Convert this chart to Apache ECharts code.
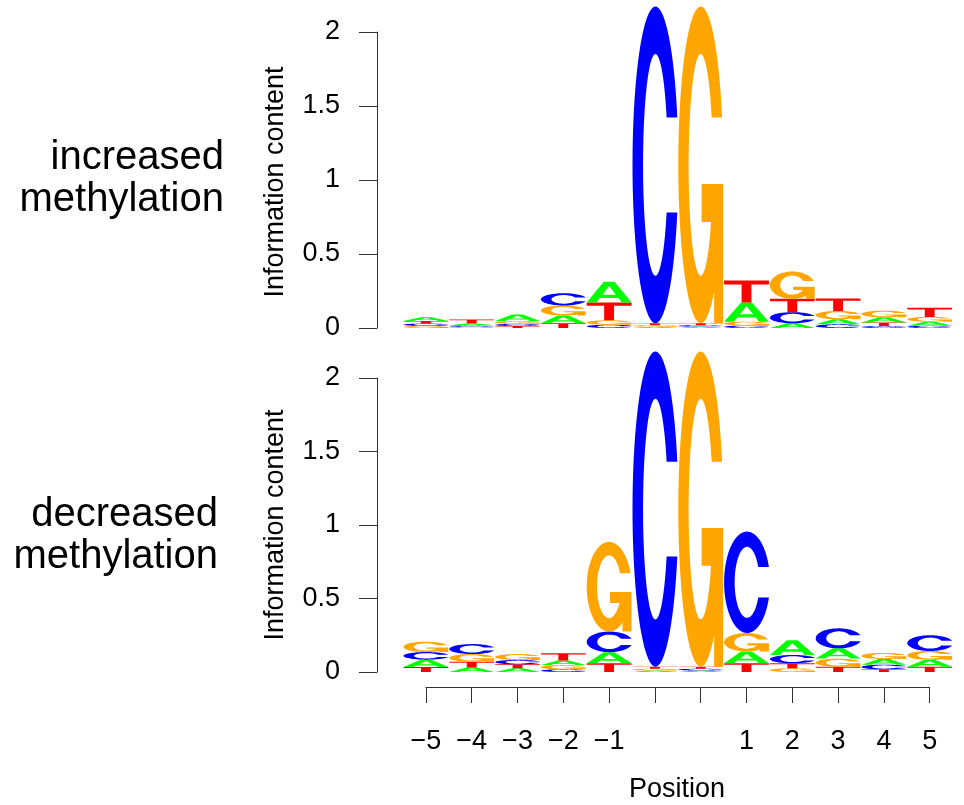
<!DOCTYPE html>
<html><head><meta charset="utf-8">
<script src="https://cdn.jsdelivr.net/npm/echarts@6/dist/echarts.min.js"></script>
<style>html,body{margin:0;padding:0;background:#fff}#c{width:964px;height:805px}</style>
</head><body><div id="c"></div>
<script>
// ---- data ----
const positions = ['-5','-4','-3','-2','-1','C','G','1','2','3','4','5'];
const tickLabels = ['\u22125','\u22124','\u22123','\u22122','\u22121','','','1','2','3','4','5'];
const letters = ['A','C','G','T'];
// increased methylation (bits)
const incA = [0.024,0.013,0.045,0.052,0.140,0.009,0.009,0.130,0.032,0.034,0.034,0.028];
const incC = [0.016,0.010,0.015,0.083,0.022,2.140,0.010,0.016,0.075,0.025,0.013,0.015];
const incG = [0.014,0.008,0.019,0.068,0.030,0.010,2.140,0.027,0.185,0.056,0.045,0.032];
const incT = [0.018,0.026,0.013,0.032,0.120,0.013,0.013,0.148,0.090,0.085,0.025,0.062];
// decreased methylation (bits)
const decA = [0.050,0.030,0.025,0.031,0.075,0.010,0.010,0.080,0.100,0.070,0.038,0.047];
const decC = [0.052,0.068,0.030,0.018,0.140,2.144,0.012,0.690,0.057,0.136,0.032,0.107];
const decG = [0.070,0.052,0.040,0.029,0.610,0.012,2.144,0.125,0.025,0.055,0.042,0.060];
const decT = [0.034,0.040,0.027,0.050,0.060,0.014,0.014,0.060,0.034,0.036,0.018,0.036];

// ---- glyph shapes (100x100 box) ----
function ellPts(cx, cy, rx, ry, a0, a1, n) {
  const pts = [];
  for (let i = 0; i <= n; i++) {
    const a = (a0 + (a1 - a0) * i / n) * Math.PI / 180;
    pts.push([cx + rx * Math.cos(a), cy - ry * Math.sin(a)]);
  }
  return pts;
}
function toPath(pts) {
  return 'M' + pts.map(p => p[0].toFixed(2) + ',' + p[1].toFixed(2)).join('L') + 'Z';
}
const ORX = 50, ORY = 50, IRX = 27, IRY = 35;
const tOut = Math.asin(0.3) * 180 / Math.PI;
const tIn = Math.asin(15 / IRY) * 180 / Math.PI;
const pathC = toPath([].concat(
  ellPts(50, 50, ORX, ORY, tOut, 360 - tOut, 80),
  ellPts(50, 50, IRX, IRY, 360 - tIn, tIn, 80)
));
const gInner = 360 - Math.asin(18 / IRY) * 180 / Math.PI;
const pathG = toPath([].concat(
  ellPts(50, 50, ORX, ORY, tOut, 360 - 53.13, 80),
  [[80, 100], [100, 100], [100, 56], [52, 56], [52, 68]],
  ellPts(50, 50, IRX, IRY, gInner, tIn, 80)
));
const pathA = 'M0,100L38,0L62,0L100,100L78,100L71,78L29,78L22,100Z M35,62L65,62L50,20Z';
const pathT = 'M0,0L100,0L100,18L61,18L61,100L39,100L39,18L0,18Z';
const PATHS = [pathA, pathC, pathG, pathT];
const COLORS = ['#00ff00', '#0000ff', '#ffa500', '#ff0000'];

function buildStacks(A, C, G, T) {
  const out = [];
  const cols = [A, C, G, T];
  for (let i = 0; i < positions.length; i++) {
    const items = cols.map((arr, k) => ({k, h: arr[i]}));
    items.sort((a, b) => a.h - b.h);
    let y = 0;
    items.forEach(it => { out.push([i, y, y + it.h, it.k]); y += it.h; });
  }
  return out;
}

function renderItem(params, api) {
  const x0 = api.value(0), y0 = api.value(1), y1 = api.value(2), li = api.value(3);
  const p0 = api.coord([x0, y0]);
  const p1 = api.coord([x0 + 1, y1]);
  const h = p0[1] - p1[1];
  if (h <= 0.05) return null;
  return {
    type: 'path',
    shape: {pathData: PATHS[li], x: p0[0] + 0.5, y: p1[1], width: p1[0] - p0[0] - 1, height: h, layout: 'cover'},
    style: {fill: COLORS[li]}
  };
}

const FONT = "'Liberation Sans', Arial, sans-serif";
const colW = 45.8;          // px per column
const axisX = 377;          // y axis line
const firstCol = 403;       // left edge of first column
const padCols = (firstCol - axisX) / colW;
function yAx(gi) {
  return {
    gridIndex: gi, type: 'value', min: 0, max: 2, interval: 0.5,
    axisLine: {show: true, onZero: false, lineStyle: {color: '#333', width: 1}},
    axisTick: {show: true, length: 18, lineStyle: {color: '#333', width: 1}},
    axisLabel: {color: '#000', fontSize: 27, fontFamily: FONT, margin: 37},
    splitLine: {show: false}
  };
}
const chart = echarts.init(document.getElementById('c'), null, {renderer: 'canvas'});
chart.setOption({
  animation: false,
  backgroundColor: '#fff',
  grid: [
    {left: axisX, top: 32, width: colW * (12 + padCols), height: 296, containLabel: false, outerBoundsMode: 'none'},
    {left: axisX, top: 378, width: colW * (12 + padCols), height: 294, containLabel: false, outerBoundsMode: 'none'},
    {left: firstCol + colW / 2, top: 600, width: colW * 11, height: 87, containLabel: false, outerBoundsMode: 'none'}
  ],
  xAxis: [
    {gridIndex: 0, type: 'value', min: -padCols, max: 12, show: false},
    {gridIndex: 1, type: 'value', min: -padCols, max: 12, show: false},
    {gridIndex: 2, type: 'category', data: tickLabels, boundaryGap: false,
     axisLine: {show: true, onZero: false, lineStyle: {color: '#333', width: 1}},
     axisTick: {show: true, length: 16, interval: 0, lineStyle: {color: '#333', width: 1}},
     axisLabel: {interval: 0, color: '#000', fontSize: 27, fontFamily: FONT, margin: 41},
     splitLine: {show: false}}
  ],
  yAxis: [yAx(0), yAx(1), {gridIndex: 2, type: 'value', show: false}],
  series: [
    {type: 'custom', xAxisIndex: 0, yAxisIndex: 0, clip: false, renderItem,
     data: buildStacks(incA, incC, incG, incT)},
    {type: 'custom', xAxisIndex: 1, yAxisIndex: 1, clip: false, renderItem,
     data: buildStacks(decA, decC, decG, decT)}
  ],
  graphic: [
    {type: 'text', x: 276, y: 182, rotation: Math.PI / 2,
     style: {text: 'Information content', font: '27px ' + FONT, fill: '#000', align: 'center', verticalAlign: 'middle'}},
    {type: 'text', x: 276, y: 525, rotation: Math.PI / 2,
     style: {text: 'Information content', font: '27px ' + FONT, fill: '#000', align: 'center', verticalAlign: 'middle'}},
    {type: 'text', x: 677, y: 790,
     style: {text: 'Position', font: '27px ' + FONT, fill: '#000', align: 'center', verticalAlign: 'middle'}},
    {type: 'text', x: 224, y: 158,
     style: {text: 'increased', font: '40px ' + FONT, fill: '#000', align: 'right', verticalAlign: 'middle'}},
    {type: 'text', x: 224, y: 200,
     style: {text: 'methylation', font: '40px ' + FONT, fill: '#000', align: 'right', verticalAlign: 'middle'}},
    {type: 'text', x: 218, y: 515,
     style: {text: 'decreased', font: '40px ' + FONT, fill: '#000', align: 'right', verticalAlign: 'middle'}},
    {type: 'text', x: 218, y: 557,
     style: {text: 'methylation', font: '40px ' + FONT, fill: '#000', align: 'right', verticalAlign: 'middle'}}
  ]
});
</script></body></html>
